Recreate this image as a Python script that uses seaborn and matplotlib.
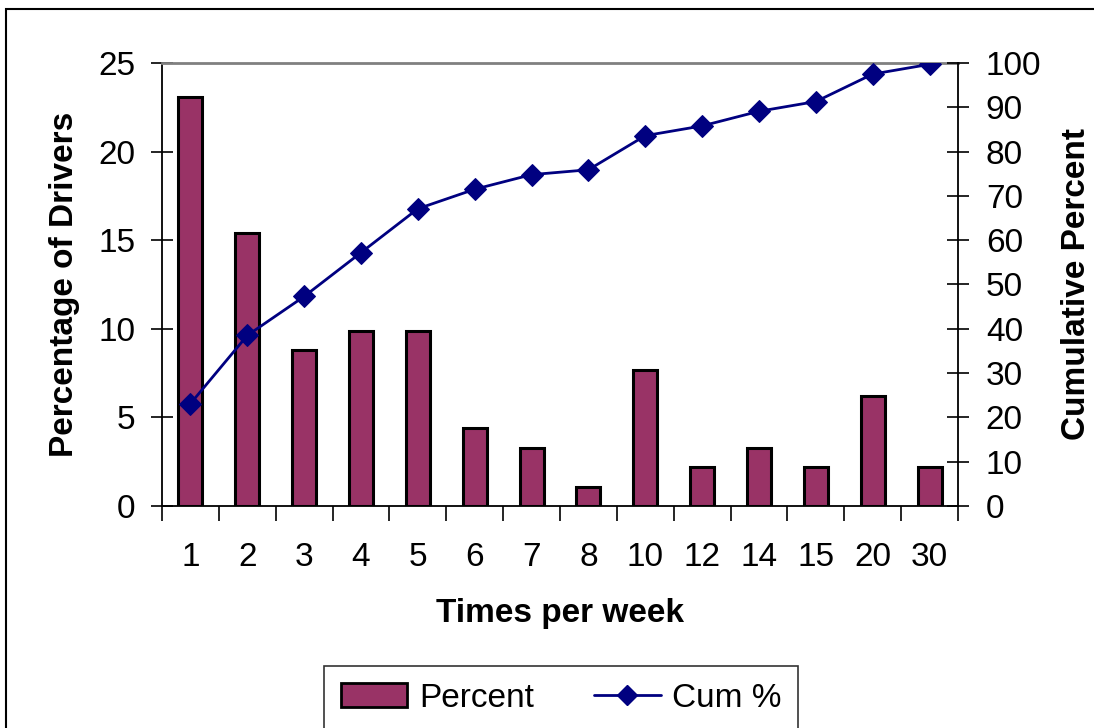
import matplotlib
matplotlib.use("Agg")
import matplotlib.pyplot as plt
from matplotlib.patches import Rectangle
from matplotlib.lines import Line2D
import numpy as np
import pandas as pd
import seaborn as sns

# Data
times = ["1", "2", "3", "4", "5", "6", "7", "8", "10", "12", "14", "15", "20", "30"]
percent = [23.1, 15.4, 8.8, 9.9, 9.9, 4.4, 3.3, 1.1, 7.7, 2.2, 3.3, 2.2, 6.2, 2.2]
cum_pct = [23.1, 38.5, 47.3, 57.2, 67.1, 71.5, 74.8, 75.9, 83.6, 85.8, 89.1, 91.3, 97.5, 99.7]

BAR_COLOR = "#993366"
LINE_COLOR = "#000080"

sns.set_style("white")
plt.rcParams["font.family"] = ["Liberation Sans", "DejaVu Sans"]
plt.rcParams["text.color"] = "black"
plt.rcParams["axes.labelcolor"] = "black"
plt.rcParams["xtick.color"] = "black"
plt.rcParams["ytick.color"] = "black"

df = pd.DataFrame({"times": times, "percent": percent, "cum": cum_pct})

fig = plt.figure(figsize=(10.94, 7.28), dpi=100)
ax = fig.add_axes([162 / 1094, 1 - 506 / 728, (958 - 162) / 1094, (506 - 63) / 728])

# Bars
sns.barplot(data=df, x="times", y="percent", order=times, color=BAR_COLOR,
            width=0.42, edgecolor="black", linewidth=2.2, saturation=1, ax=ax)
ax.set_ylim(0, 25)
ax.set_xlim(-0.5, len(times) - 0.5)
ax.set_yticks([0, 5, 10, 15, 20, 25])

# Cumulative line
ax2 = ax.twinx()
xpos = np.arange(len(times))
sns.lineplot(x=xpos, y=df["cum"], ax=ax2, color=LINE_COLOR, linewidth=2,
             marker="D", markersize=11, markeredgecolor=LINE_COLOR)
ax2.set_ylim(0, 100)
ax2.set_xlim(-0.5, len(times) - 0.5)
ax2.set_yticks(range(0, 101, 10))

# Spines
for a in (ax, ax2):
    for s in a.spines.values():
        s.set_visible(False)
ax.spines["left"].set_visible(True)
ax.spines["bottom"].set_visible(True)
ax.spines["top"].set_visible(True)
ax.spines["left"].set_color("black")
ax.spines["bottom"].set_color("black")
ax.spines["top"].set_color("#808080")
ax.spines["top"].set_linewidth(2)
ax2.spines["right"].set_visible(True)
ax2.spines["right"].set_color("black")
for s in ("left", "bottom"):
    ax.spines[s].set_linewidth(1.3)
ax2.spines["right"].set_linewidth(1.3)

# Ticks
ax.tick_params(axis="y", direction="inout", length=16, width=1.2, labelsize=24, pad=11, left=True)
ax2.tick_params(axis="y", direction="inout", length=16, width=1.2, labelsize=24, pad=12, right=True)
ax.set_xticks(xpos)
ax.set_xticklabels(times)
ax.tick_params(axis="x", which="major", length=0, labelsize=24, pad=26)
ax.set_xticks(np.arange(len(times) + 1) - 0.5, minor=True)
ax.tick_params(axis="x", which="minor", direction="out", length=11, width=1.2, bottom=True)
ax2.tick_params(axis="x", which="both", bottom=False, top=False, labelbottom=False, labeltop=False)

ax.set_xlabel("Times per week", fontsize=24, fontweight="bold", labelpad=18)
ax.set_ylabel("Percentage of Drivers", fontsize=24, fontweight="bold", labelpad=13)
ax2.set_ylabel("Cumulative Percent", fontsize=24, fontweight="bold", labelpad=14)
ax2.set_zorder(ax.get_zorder() + 1)
ax2.patch.set_visible(False)

# Legend
handles = [
    Rectangle((0, 0), 1, 1, facecolor=BAR_COLOR, edgecolor="black", linewidth=2),
    Line2D([0], [0], color=LINE_COLOR, linewidth=2, marker="D", markersize=10),
]
leg = fig.legend(handles, ["Percent", "Cum %"], loc="upper center",
                 bbox_to_anchor=(0.513, 0.085), borderaxespad=0, ncol=2, fontsize=24,
                 frameon=True, fancybox=False, edgecolor="black", handlelength=2.0,
                 handletextpad=0.35, columnspacing=1.8, borderpad=0.5)
leg.get_frame().set_linewidth(1.2)

# Outer border
fig.patches.append(Rectangle((6 / 1094, -0.2), 1.2, 1.2 - 9 / 728,
                             transform=fig.transFigure, fill=False,
                             edgecolor="black", linewidth=1.5))

fig.savefig("out.png", dpi=100)
